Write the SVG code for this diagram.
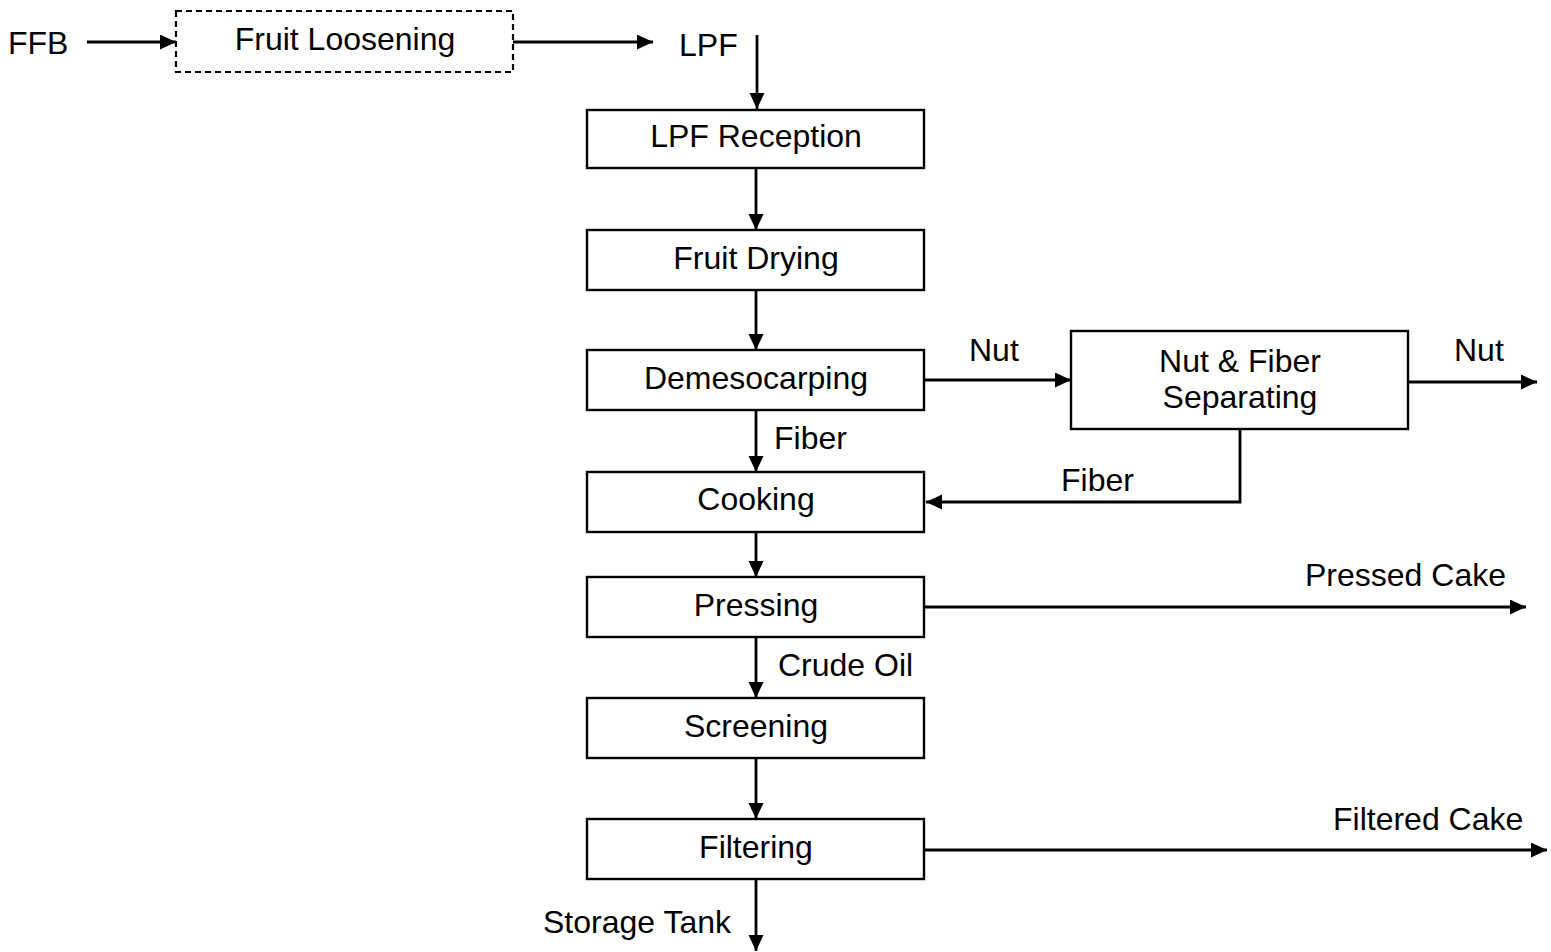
<svg xmlns="http://www.w3.org/2000/svg" width="1551" height="952" viewBox="0 0 1551 952">
<style>
text{font-family:"Liberation Sans",Arial,sans-serif;font-size:32px;fill:#000}
.c{text-anchor:middle}
.box{fill:#fff;stroke:#000;stroke-width:2.4}
.dash{fill:#fff;stroke:#000;stroke-width:2.2;stroke-dasharray:6,4}
.ln{fill:none;stroke:#000;stroke-width:2.8;marker-end:url(#ah)}
</style>
<defs>
<marker id="ah" markerUnits="userSpaceOnUse" markerWidth="18" markerHeight="17" refX="16" refY="7.5" orient="auto">
<path d="M0,0 L16,7.5 L0,15 Z" fill="#000"/>
</marker>
</defs>
<g id="connectors">
<line class="ln" x1="87" y1="42" x2="176" y2="42"/>
<line class="ln" x1="513" y1="42" x2="653" y2="42"/>
<line class="ln" x1="757" y1="35" x2="757" y2="109"/>
<line class="ln" x1="756" y1="168" x2="756" y2="230"/>
<line class="ln" x1="756" y1="290" x2="756" y2="350"/>
<line class="ln" x1="925" y1="380" x2="1071" y2="380"/>
<line class="ln" x1="1405" y1="382" x2="1537" y2="382"/>
<line class="ln" x1="756" y1="410" x2="756" y2="472"/>
<polyline class="ln" points="1240,429 1240,502 926,502"/>
<line class="ln" x1="756" y1="532" x2="756" y2="577"/>
<line class="ln" x1="925" y1="607" x2="1526" y2="607"/>
<line class="ln" x1="756" y1="637" x2="756" y2="698"/>
<line class="ln" x1="756" y1="758" x2="756" y2="819"/>
<line class="ln" x1="925" y1="850" x2="1547" y2="850"/>
<line class="ln" x1="756" y1="879" x2="756" y2="951"/>
</g>
<g id="labels">
<text x="8" y="54">FFB</text>
<text x="679" y="56">LPF</text>
<text x="969" y="361">Nut</text>
<text x="1454" y="361">Nut</text>
<text x="774" y="449">Fiber</text>
<text x="1061" y="491">Fiber</text>
<text x="1305" y="586">Pressed Cake</text>
<text x="778" y="676">Crude Oil</text>
<text x="1333" y="830">Filtered Cake</text>
<text x="543" y="933">Storage Tank</text>
</g>
<g id="fruit-loosening">
<rect class="dash" x="176" y="11" width="337" height="61"/>
<text class="c" x="345" y="50">Fruit Loosening</text>
</g>
<g id="lpf-reception">
<rect class="box" x="587" y="110" width="337" height="58"/>
<text class="c" x="756" y="147">LPF Reception</text>
</g>
<g id="fruit-drying">
<rect class="box" x="587" y="230" width="337" height="60"/>
<text class="c" x="756" y="269">Fruit Drying</text>
</g>
<g id="demesocarping">
<rect class="box" x="587" y="350" width="337" height="60"/>
<text class="c" x="756" y="389">Demesocarping</text>
</g>
<g id="nut-fiber-separating">
<rect class="box" x="1071" y="331" width="337" height="98"/>
<text class="c" x="1240" y="372">Nut &amp; Fiber</text>
<text class="c" x="1240" y="408">Separating</text>
</g>
<g id="cooking">
<rect class="box" x="587" y="472" width="337" height="60"/>
<text class="c" x="756" y="510">Cooking</text>
</g>
<g id="pressing">
<rect class="box" x="587" y="577" width="337" height="60"/>
<text class="c" x="756" y="616">Pressing</text>
</g>
<g id="screening">
<rect class="box" x="587" y="698" width="337" height="60"/>
<text class="c" x="756" y="737">Screening</text>
</g>
<g id="filtering">
<rect class="box" x="587" y="819" width="337" height="60"/>
<text class="c" x="756" y="858">Filtering</text>
</g>
</svg>
